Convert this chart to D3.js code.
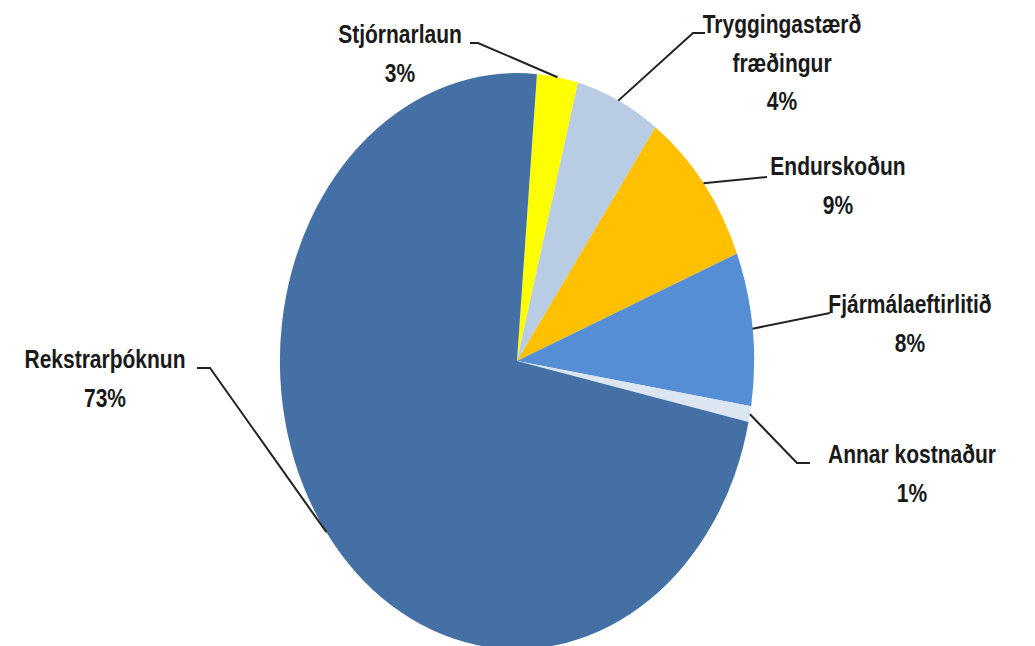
<!DOCTYPE html>
<html>
<head>
<meta charset="utf-8">
<script src="https://cdn.jsdelivr.net/npm/d3@7.9.0/dist/d3.min.js"></script>
<style>
  body { margin: 0; background: #fff; }
  text { font-family: "Liberation Sans Narrow", "Arial Narrow", "Liberation Sans", sans-serif; font-weight: bold; fill: #1a1a1a; }
</style>
</head>
<body>
<svg id="chart" width="1035" height="646"></svg>
<script>
// slices, clockwise from the top
const categories = ['Stjórnarlaun', 'Tryggingastærðfræðingur', 'Endurskoðun', 'Fjármálaeftirlitið', 'Annar kostnaður', 'Rekstrarþóknun'];
const labelLines = [['Stjórnarlaun'], ['Tryggingastærð', 'fræðingur'], ['Endurskoðun'], ['Fjármálaeftirlitið'], ['Annar kostnaður'], ['Rekstrarþóknun']];
const values = [2.8, 5.8, 9.0, 8.6, 0.9, 73.0];
const percentLabels = ['3%', '4%', '9%', '8%', '1%', '73%'];
const colors = ['#FFFF00', '#B8CCE4', '#FFC000', '#558ED5', '#DCE6F2', '#4470A5'];

// layout
const cx = 517, cy = 361, rx = 237, ry = 288;
const startDeg = 4.8;
// label centre (x, first baseline y) and leader elbow
const labelPos = [
  { x: 400, y: 43, elbow: [478, 43], anchor: [470, 43] },
  { x: 782, y: 33, elbow: [693, 33], anchor: [705, 33] },
  { x: 838, y: 175, elbow: null, anchor: [767, 177] },
  { x: 910, y: 313, elbow: null, anchor: [830, 313] },
  { x: 912, y: 463, elbow: [797, 463], anchor: [810, 463] },
  { x: 105, y: 368, elbow: [210, 368], anchor: [197, 368] }
];

const svg = d3.select('#chart');

const pie = d3.pie().sort(null).value((d) => d)
  .startAngle(startDeg * Math.PI / 180)
  .endAngle(startDeg * Math.PI / 180 + 2 * Math.PI);
const arcData = pie(values);
const arc = d3.arc().innerRadius(0).outerRadius(1);

const g = svg.append('g').attr('transform', `translate(${cx},${cy}) scale(${rx},${ry})`);
g.selectAll('path')
  .data(arcData)
  .join('path')
  .attr('d', arc)
  .attr('fill', (d, i) => colors[i]);

// leader lines
arcData.forEach((d, i) => {
  const mid = (d.startAngle + d.endAngle) / 2;
  const px = cx + rx * Math.sin(mid);
  const py = cy - ry * Math.cos(mid);
  const lp = labelPos[i];
  const pts = [lp.anchor];
  if (lp.elbow) pts.push(lp.elbow);
  pts.push([px, py]);
  svg.append('path')
    .attr('d', d3.line()(pts))
    .attr('fill', 'none')
    .attr('stroke', '#222')
    .attr('stroke-width', 2);
});

// labels (vertically stretched like the original)
const sy = 1.25;
labelLines.forEach((lines, i) => {
  const lp = labelPos[i];
  const t = svg.append('g').attr('transform', `translate(${lp.x},${lp.y}) scale(1,${sy})`);
  const all = lines.concat([percentLabels[i]]);
  all.forEach((s, j) => {
    t.append('text')
      .attr('x', 0)
      .attr('y', j * 31)
      .attr('text-anchor', 'middle')
      .attr('font-size', 21)
      .text(s);
  });
});
</script>
</body>
</html>
